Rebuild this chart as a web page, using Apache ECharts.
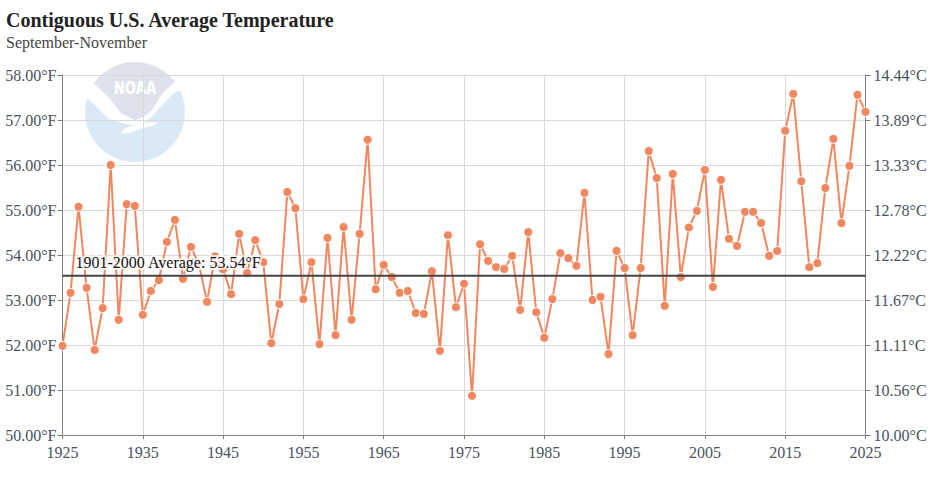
<!DOCTYPE html>
<html><head><meta charset="utf-8">
<style>html,body{margin:0;padding:0;background:#fff}#c{width:930px;height:500px}</style>
<script src="https://cdn.jsdelivr.net/npm/echarts@6/dist/echarts.min.js"></script>
</head><body><div id="c"></div>
<script>
const titleText = 'Contiguous U.S. Average Temperature';
const subtitleText = 'September-November';
const averageLabel = '1901-2000 Average: 53.54°F';
const averageValue = 53.54;
const startYear = 1925;
const endYear = 2025;
const temps = [
51.98,53.16,55.07,53.27,51.89,52.82,56.00,52.56,55.13,55.09,
52.67,53.20,53.44,54.29,54.78,53.47,54.18,53.78,52.96,53.97,
53.68,53.13,54.47,53.60,54.33,53.84,52.04,52.91,55.40,55.04,
53.02,53.84,52.02,54.38,52.22,54.62,52.56,54.47,56.56,53.24,
53.78,53.51,53.16,53.20,52.71,52.69,53.64,51.87,54.44,52.84,
53.36,50.87,54.24,53.87,53.73,53.69,53.98,52.78,54.51,52.73,
52.16,53.02,54.04,53.93,53.76,55.38,53.00,53.07,51.80,54.09,
53.71,52.22,53.71,56.31,55.71,52.87,55.80,53.51,54.61,54.98,
55.89,53.29,55.67,54.36,54.20,54.96,54.96,54.71,53.98,54.09,
56.76,57.58,55.64,53.73,53.82,55.49,56.58,54.71,55.98,57.56,57.18];
const tempPoints = temps.map((v,i)=>[startYear+i,v]);
const FONT = '"Liberation Serif","Times New Roman",serif';
const axisColor = '#4a5260';
const labelStyle = {show:true,formatter:averageLabel,position:[13,-21],align:'left',
  fontFamily:FONT,fontSize:16,color:'#111',
  textBorderColor:'rgba(255,255,255,0.75)',textBorderWidth:4};
const avgPoints = [{value:[startYear,averageValue],label:labelStyle},{value:[endYear,averageValue]}];

// decorative watermark outline (local px of the 100px logo)
const L = (zx,zy)=>[(zx-30)/3,(zy-20)/3];
const whiteBand = [[35,128],[60,150],[100,190],[150,205],[175,210],[150,218],[135,235],[165,233],[195,222],[245,207],[245,200],[205,203],[230,185],[270,140],[300,110],[322,105],[340,60],[180,5],[20,60],[20,128]].map(p=>L(p[0],p[1]));
const cap = [];
const a0=Math.atan2(85-170,58-180), a1=Math.atan2(80-170,300-180);
for(let i=0;i<=24;i++){const a=a0+(a1-a0)*i/24;cap.push([50+50*Math.cos(a),50+50*Math.sin(a)]);}
const greyShape = cap.concat([[265,110],[230,165],[205,185],[180,195],[140,175],[100,125]].map(p=>L(p[0],p[1])));

const chart = echarts.init(document.getElementById('c'),null,{renderer:'svg'});
chart.setOption({
  animation:false,
  backgroundColor:'#fff',
  title:{text:titleText,subtext:subtitleText,left:6,top:10,itemGap:4,padding:0,
    textStyle:{fontFamily:FONT,fontSize:20,fontWeight:'bold',color:'#222'},
    subtextStyle:{fontFamily:FONT,fontSize:16,color:'#444'}},
  grid:{left:62.5,right:64.5,top:75,bottom:65,containLabel:false},
  xAxis:{type:'value',min:startYear,max:endYear,interval:10,
    axisLine:{show:true,lineStyle:{color:'#808080',width:1}},
    axisTick:{show:true,length:4,lineStyle:{color:'#808080'}},
    axisLabel:{fontFamily:FONT,fontSize:16,color:axisColor,margin:9,formatter:v=>String(v)},
    splitLine:{show:true,lineStyle:{color:'#d9d9d9',width:1}}},
  yAxis:[
   {type:'value',min:50,max:58,interval:1,
    axisLine:{show:true,lineStyle:{color:'#808080',width:1}},
    axisTick:{show:true,length:5,lineStyle:{color:'#808080'}},
    axisLabel:{fontFamily:FONT,fontSize:16,color:axisColor,margin:6,formatter:v=>v.toFixed(2)+'°F'},
    splitLine:{show:true,lineStyle:{color:'#d9d9d9',width:1}}},
   {type:'value',min:50,max:58,interval:1,position:'right',
    axisLine:{show:true,lineStyle:{color:'#808080',width:1}},
    axisTick:{show:true,length:5,lineStyle:{color:'#808080'}},
    axisLabel:{fontFamily:FONT,fontSize:16,color:axisColor,margin:8,formatter:v=>((v-32)*5/9).toFixed(2)+'°C'},
    splitLine:{show:false}}],
  graphic:{z:-10,elements:[{type:'group',x:85,y:62,silent:true,children:[
    {type:'circle',shape:{cx:50,cy:50,r:50},style:{fill:'#d9e9f6'}},
    {type:'polygon',shape:{points:whiteBand},style:{fill:'#fff'}},
    {type:'polygon',shape:{points:greyShape},style:{fill:'#dfe1ec'}},
    {type:'text',x:50,y:26.7,scaleX:0.78,style:{text:'NOAA',fill:'#fff',font:'bold 17px "DejaVu Sans",sans-serif',align:'center',verticalAlign:'middle'}}
  ]}]},
  series:[
   {type:'line',name:'temp',data:tempPoints,yAxisIndex:0,z:3,
    symbol:'circle',symbolSize:9,showSymbol:true,
    lineStyle:{color:'#f0875f',width:2},
    itemStyle:{color:'#f0875f',borderColor:'#fff',borderWidth:1}},
   {type:'line',name:'avg',data:avgPoints,yAxisIndex:0,z:4,
    symbol:'circle',symbolSize:0,showSymbol:true,showAllSymbol:true,
    itemStyle:{color:'#444'},
    lineStyle:{color:'#444',width:2}}
  ]
});
</script></body></html>
